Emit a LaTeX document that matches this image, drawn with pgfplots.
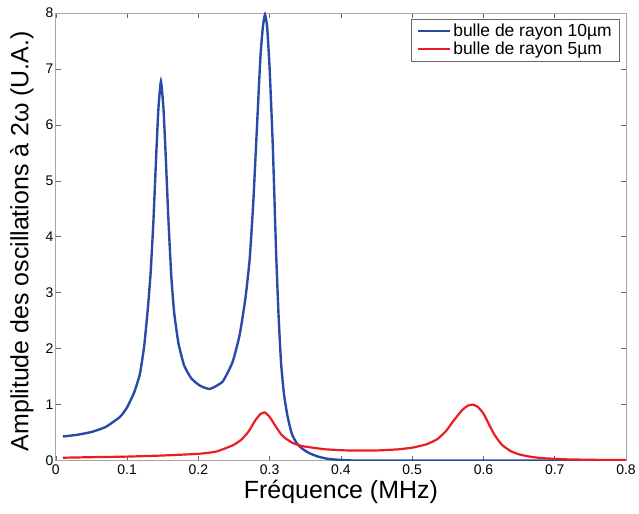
\documentclass[border=0pt]{standalone}
\usepackage{fontspec}
\setmainfont{Liberation Sans}
\usepackage{pgfplots}
\pgfplotsset{compat=1.18}
\definecolor{cblue}{RGB}{40,75,168}
\definecolor{cred}{RGB}{236,28,36}
\begin{document}
\begin{tikzpicture}
\path (-56bp,-53bp) rectangle (583bp,462bp);
\begin{axis}[
  scale only axis,
  width=572bp, height=449bp,
  xmin=0, xmax=0.8, ymin=0, ymax=8,
  xtick={0,0.1,...,0.8},
  ytick={0,1,...,8},
  xticklabels={0,0.1,0.2,0.3,0.4,0.5,0.6,0.7,0.8},
  tick align=inside,
  major tick length=5bp,
  tick style={gray!80!black, line width=0.5bp},
  axis line style={gray!70, line width=0.8bp},
  /pgf/number format/assume math mode=true,
  ticklabel style={font=\fontsize{14bp}{16bp}\selectfont},
  xticklabel style={yshift=-1bp},
  yticklabel style={xshift=1bp},
  xlabel={Fréquence (MHz)},
  ylabel={Amplitude des oscillations à 2ω (U.A.)},
  every axis x label/.style={at={(axis description cs:0.5,-0.069)}, anchor=center,
    font=\fontsize{25bp}{28bp}\selectfont},
  every axis y label/.style={at={(axis description cs:-0.0595,0.49)}, anchor=center, rotate=90,
    font=\fontsize{25bp}{28bp}\selectfont},
  legend style={at={(axis description cs:1,1)}, anchor=north east, xshift=-6bp, yshift=-6bp,
    font=\fontsize{17.5bp}{20bp}\selectfont, draw=gray!80!black, line width=0.6bp,
    inner xsep=6bp, inner ysep=3bp, row sep=0bp, cells={anchor=west}},
  legend image code/.code={\draw[#1, line width=2.2bp] (0bp,0bp) -- (32bp,0bp);},
]
\addplot[cblue, line width=2.4bp, smooth, tension=0.3] coordinates {
(0.01,0.43) (0.03,0.46) (0.05,0.51) (0.07,0.60) (0.09,0.78) (0.100,0.95)
(0.110,1.22) (0.118,1.55) (0.124,2.05) (0.129,2.7) (0.133,3.35) (0.137,4.3)
(0.141,5.5) (0.144,6.3) (0.1475,6.78) (0.151,6.3) (0.154,5.5) (0.158,4.3)
(0.162,3.3) (0.166,2.65) (0.172,2.1) (0.180,1.7) (0.190,1.47) (0.202,1.34)
(0.216,1.28) (0.234,1.41) (0.248,1.76) (0.258,2.25) (0.266,2.9) (0.272,3.6)
(0.277,4.6) (0.282,5.9) (0.287,7.2) (0.2905,7.75) (0.2935,7.97) (0.2965,7.75)
(0.300,7.0) (0.3045,5.6) (0.309,3.75) (0.3125,2.6) (0.316,1.75) (0.320,1.2)
(0.325,0.8) (0.331,0.48) (0.338,0.31) (0.346,0.21) (0.356,0.13) (0.368,0.07)
(0.382,0.03) (0.40,0.01) (0.42,0) (0.5,0) (0.6,0) (0.7,0) (0.8,0)
};
\addlegendentry{bulle de rayon 10µm}
\addplot[cred, line width=2.2bp, smooth, tension=0.3] coordinates {
(0.01,0.05) (0.05,0.06) (0.1,0.07) (0.15,0.09) (0.2,0.12) (0.225,0.16)
(0.248,0.27) (0.260,0.37) (0.270,0.51) (0.280,0.72) (0.287,0.83) (0.293,0.86)
(0.300,0.78) (0.309,0.60) (0.316,0.47) (0.323,0.39) (0.333,0.31) (0.345,0.26)
(0.36,0.23) (0.379,0.20) (0.41,0.18) (0.45,0.18) (0.48,0.20) (0.50,0.23)
(0.52,0.29) (0.535,0.38) (0.547,0.52) (0.558,0.71) (0.57,0.90) (0.578,0.98)
(0.585,1.0) (0.592,0.96) (0.600,0.84) (0.608,0.64) (0.616,0.45) (0.626,0.28)
(0.638,0.17) (0.65,0.11) (0.665,0.07) (0.68,0.045) (0.70,0.03) (0.72,0.02)
(0.76,0.012) (0.8,0.01)
};
\addlegendentry{bulle de rayon 5µm}
\end{axis}
\end{tikzpicture}
\end{document}
